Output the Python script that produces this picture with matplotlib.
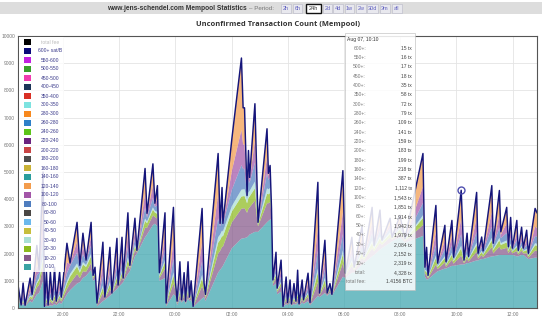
import numpy as np
import matplotlib.pyplot as plt
from matplotlib.patches import Rectangle

plt.rcParams['font.family'] = ['Liberation Sans', 'DejaVu Sans']

W, H = 542, 325

# hours after 18:00 on Aug 06
hours = [0.40, 0.51, 0.58, 0.65, 0.83, 0.90, 1.07, 1.15, 1.29, 1.34,
         1.41, 1.47, 1.55, 1.62, 1.70, 1.76, 1.88, 1.94, 2.14, 2.25,
         2.50, 2.60, 2.71, 2.82, 3.00, 3.07, 3.14, 3.21,
         3.42, 3.49, 3.67, 3.74, 3.92, 3.96, 4.10, 4.14, 4.31, 4.38,
         4.56, 4.63, 4.92, 4.99, 5.20, 5.27, 5.36, 5.43, 5.63, 5.67,
         5.93, 6.00, 6.06, 6.16, 6.22, 6.31, 6.36, 6.45, 6.50, 6.56, 6.63,
         6.95, 7.02, 7.07, 7.52, 7.59, 7.66, 7.69, 8.01, 8.35, 8.41, 8.46,
         8.55, 8.60, 8.64, 8.83, 8.94, 9.26, 9.31, 9.37, 9.42, 9.47, 9.58, 9.62, 9.76, 9.83,
         9.94, 9.99, 10.08, 10.13, 10.22, 10.29, 10.35, 10.40, 10.51, 10.56, 10.72, 10.79,
         11.07, 11.13, 11.32, 11.40, 11.50, 11.57, 11.96, 12.05,
         12.28, 12.36, 12.64, 12.71, 13.00, 13.07, 13.28, 13.35, 13.64, 13.71, 13.99, 14.17, 14.81, 14.88,
         14.94, 14.99, 15.27, 15.33, 15.59, 15.63, 15.84, 15.90, 16.17, 16.27, 16.38, 16.43, 16.72, 16.77, 16.90, 16.95,
         17.26, 17.31, 17.53, 17.58, 17.79, 17.85, 17.93, 17.99, 18.15, 18.20, 18.32, 18.38, 18.50, 18.56, 18.80, 18.87]

# total unconfirmed tx (top line)
total = [840, 110, 915, 100, 1100, 500, 2300, 1400, 5000, 60,
         1320, 110, 1320, 300, 1500, 250, 1320, 400, 2380, 1650,
         3150, 1570, 2750, 1760, 3150, 1200, 1500, 180,
         2420, 400, 2230, 550, 2560, 840, 2600, 1100, 3500, 1570,
         3300, 2120, 5130, 3480, 5300, 3850, 4500, 1300, 3500, 180,
         3700, 1000, 250, 1700, 300, 1300, 250, 1700, 400, 1000, 60,
         3660, 910, 500, 5680, 3110, 4430, 3110, 6230, 9190, 7360, 7360,
         4140, 5790, 4800, 7510, 3150, 6590, 4950, 5240, 3660, 1030, 2050, 730, 1760, 60,
         1140, 200, 1030, 150, 900, 250, 1390, 150, 1030, 300, 1280, 200,
         4620, 550, 2490, 550, 900, 500, 5050, 1280,
         2600, 1500, 3000, 1900, 3700, 2300, 3600, 2500, 3300, 2600, 3400, 2550, 5680, 1500,
         2230, 1200, 3770, 1650, 3040, 1700, 3220, 1870, 4328, 1760, 2750, 1900, 4250, 2010, 2610, 2100,
         4500, 2380, 4320, 2800, 3700, 2250, 3330, 2200, 3220, 2120, 2970, 2200, 2860, 2010, 3660, 3500]

fee0_10 = [300, 80, 150, 60, 250, 200, 500, 550, 1000, 40,
           80, 60, 100, 80, 150, 100, 200, 150, 500, 650,
           900, 950, 1100, 1180, 1400, 1000, 1050, 60,
           250, 300, 450, 520, 700, 750, 900, 950, 1250, 1350,
           1900, 2000, 2600, 2700, 3050, 3100, 3000, 1000, 1100, 60,
           500, 450, 100, 300, 200, 300, 150, 350, 250, 300, 30,
           350, 400, 250, 1300, 1400, 1500, 1550, 2200, 2550, 2560, 2570,
           2600, 2650, 2700, 2800, 2800, 3150, 3200, 3250, 3250, 800, 900, 500, 600, 40,
           150, 100, 200, 80, 150, 120, 200, 80, 200, 150, 250, 100,
           450, 400, 550, 450, 550, 450, 1150, 1100,
           1300, 1300, 1600, 1650, 1900, 1950, 2150, 2200, 2400, 2450, 2600, 2400, 2650, 1150,
           1050, 1050, 1300, 1350, 1450, 1450, 1550, 1550, 1600, 1600, 1650, 1650, 1750, 1750, 1800, 1800,
           1900, 1900, 1950, 1950, 1950, 1950, 1950, 1950, 1900, 1900, 1950, 1950, 1850, 1800, 1850, 1850]

fee10_20 = [100, 10, 80, 15, 100, 100, 250, 300, 500, 10,
            150, 20, 150, 80, 180, 60, 150, 90, 200, 250,
            350, 150, 250, 150, 250, 80, 120, 50,
            300, 40, 250, 10, 250, 35, 250, 60, 320, 80,
            220, 50, 350, 250, 350, 250, 280, 100, 350, 50,
            400, 200, 60, 200, 40, 150, 40, 200, 60, 120, 10,
            450, 200, 100, 700, 700, 750, 700, 950, 1100, 1100, 1100,
            900, 1000, 1000, 1150, 200, 700, 650, 650, 200, 90, 200, 90, 200, 10,
            150, 40, 130, 30, 120, 50, 180, 30, 130, 60, 160, 40,
            500, 60, 280, 40, 100, 20, 500, 70,
            250, 80, 250, 100, 300, 130, 250, 120, 200, 60, 180, 60, 400, 130,
            150, 40, 300, 80, 220, 60, 230, 80, 330, 40, 170, 60, 320, 60, 150, 70,
            330, 110, 310, 200, 260, 70, 200, 60, 190, 60, 160, 60, 160, 50, 260, 250]

fee20_30 = [60, 10, 60, 10, 80, 80, 150, 180, 300, 5,
            100, 15, 100, 60, 120, 40, 100, 70, 200, 250,
            280, 200, 250, 180, 250, 60, 80, 30,
            200, 30, 180, 10, 180, 25, 170, 40, 220, 60,
            150, 30, 250, 170, 220, 160, 180, 70, 230, 30,
            300, 130, 40, 130, 30, 100, 30, 130, 40, 80, 10,
            300, 130, 70, 400, 400, 400, 380, 400, 450, 450, 450,
            350, 400, 400, 450, 80, 350, 330, 330, 100, 60, 120, 60, 120, 5,
            100, 30, 90, 20, 80, 35, 120, 20, 90, 40, 110, 30,
            350, 40, 200, 30, 70, 15, 330, 50,
            150, 55, 160, 65, 200, 90, 170, 80, 130, 40, 120, 40, 260, 90,
            120, 40, 240, 80, 170, 70, 180, 90, 260, 50, 130, 70, 240, 70, 110, 80,
            250, 120, 230, 170, 200, 80, 160, 65, 150, 60, 125, 65, 120, 60, 195, 190]

fee30_40 = [30, 0, 20, 5, 30, 30, 60, 70, 120, 0,
            40, 5, 40, 20, 40, 15, 40, 25, 80, 100,
            110, 80, 90, 70, 100, 20, 30, 10,
            80, 10, 70, 5, 70, 10, 70, 15, 80, 20,
            60, 10, 90, 60, 80, 60, 70, 30, 90, 10,
            110, 50, 15, 50, 10, 40, 10, 50, 15, 30, 5,
            120, 50, 25, 200, 200, 200, 180, 200, 250, 250, 250,
            150, 200, 200, 250, 30, 200, 180, 180, 40, 20, 50, 20, 50, 0,
            40, 10, 30, 5, 30, 10, 45, 5, 30, 15, 40, 10,
            150, 15, 80, 10, 25, 5, 140, 20,
            60, 20, 60, 25, 80, 35, 60, 30, 50, 15, 45, 15, 100, 35,
            45, 15, 90, 30, 65, 25, 70, 35, 100, 15, 50, 25, 95, 25, 40, 30,
            100, 45, 90, 65, 75, 30, 60, 25, 55, 20, 50, 25, 45, 20, 75, 70]

fee80_100 = [80, 0, 100, 5, 120, 60, 250, 200, 600, 0,
             180, 5, 180, 40, 200, 25, 160, 50, 300, 300,
             400, 150, 300, 150, 300, 30, 80, 20,
             350, 15, 280, 5, 300, 15, 270, 25, 350, 40,
             220, 20, 400, 150, 350, 150, 250, 60, 380, 20,
             500, 120, 25, 220, 15, 150, 15, 200, 25, 110, 5,
             500, 100, 45, 700, 300, 500, 250, 600, 900, 750, 750,
             120, 500, 300, 700, 30, 550, 350, 400, 50, 40, 180, 40, 180, 0,
             150, 15, 130, 10, 110, 25, 180, 10, 130, 25, 160, 15,
             650, 25, 300, 15, 60, 5, 600, 30,
             200, 35, 220, 50, 280, 70, 230, 60, 150, 25, 130, 25, 450, 70,
             170, 40, 380, 80, 260, 70, 280, 90, 420, 40, 190, 70, 390, 80, 140, 90,
             400, 130, 370, 180, 280, 60, 210, 50, 200, 50, 160, 50, 150, 50, 270, 250]

fee100_120 = [100, 0, 150, 0, 180, 0, 400, 50, 900, 0,
              270, 0, 260, 0, 290, 0, 240, 0, 400, 60,
              400, 20, 300, 20, 320, 0, 60, 0,
              450, 0, 380, 0, 400, 0, 350, 0, 480, 10,
              300, 0, 520, 100, 450, 80, 280, 20, 500, 0,
              650, 30, 0, 300, 0, 200, 0, 280, 0, 140, 0,
              700, 20, 0, 900, 80, 400, 30, 700, 1300, 900, 900,
              10, 400, 100, 800, 0, 600, 150, 230, 0, 0, 250, 0, 250, 0,
              200, 0, 170, 0, 150, 0, 250, 0, 170, 0, 210, 0,
              850, 0, 400, 0, 50, 0, 800, 0,
              250, 0, 280, 0, 360, 10, 290, 0, 150, 0, 130, 0, 600, 10,
              200, 0, 500, 10, 330, 10, 360, 15, 560, 0, 230, 0, 520, 0, 170, 0,
              540, 30, 490, 130, 350, 0, 270, 0, 250, 0, 200, 0, 190, 0, 350, 320]

tick_hours = [2, 4, 6, 8, 10, 12, 14, 16, 18]
tick_labels = ['20:00', '22:00', '00:00', '02:00', '04:00', '06:00', '08:00', '10:00', '12:00']
y_ticks = list(range(0, 10001, 1000))

legend_labels = ['total fee', '600+ sat/B', '550-600', '500-550', '450-500', '400-450',
                 '350-400', '300-350', '280-300', '260-280', '240-260', '220-240',
                 '200-220', '180-200', '160-180', '140-160', '120-140', '100-120',
                 '80-100', '60-80', '50-60', '40-50', '30-40', '20-30', '10-20', '0-10']
legend_colors = ['#000000', '#0a0a7a', '#c21fe0', '#38a02a', '#f03cb0', '#1c3557',
                 '#d93025', '#7de3e0', '#f7891e', '#2d7fc8', '#5cc41a', '#6b2380',
                 '#c94545', '#4d4d4d', '#c9b236', '#2a9d9d', '#f39c4d', '#a356a8',
                 '#4f7dbf', '#4a4744', '#6bb8ec', '#c7be3c', '#a9dfd5', '#8cba1e',
                 '#85588a', '#3aa3a3']

tip_time = 'Aug 07, 10:10'
tip_hour = 16.17
tip_total = 4328
tip_labels = ['600+:', '550+:', '500+:', '450+:', '400+:', '350+:', '300+:', '280+:',
              '260+:', '240+:', '220+:', '200+:', '180+:', '160+:', '140+:', '120+:',
              '100+:', '80+:', '60+:', '50+:', '40+:', '30+:', '20+:', '10+:',
              'total:', 'total fee:']
tip_values = ['15 tx', '16 tx', '17 tx', '18 tx', '35 tx', '58 tx', '72 tx', '79 tx',
              '109 tx', '141 tx', '159 tx', '183 tx', '199 tx', '218 tx', '387 tx', '1,112 tx',
              '1,543 tx', '1,851 tx', '1,914 tx', '1,942 tx', '1,979 tx', '2,084 tx', '2,152 tx', '2,319 tx',
              '4,328 tx', '1.4156 BTC']

period_buttons = ['2h', '6h', '24h', '2d', '4d', '1w', '2w', '30d', '3m', 'all']
button_left = [281, 293, 306, 323, 333, 345, 356, 367, 380, 392]
button_right = [291, 302, 321, 332, 343, 354, 366, 378, 390, 402]


def fx(x):
    return x / W


def fy(y):
    return 1 - y / H


tot = np.array(total, dtype=float)
lower = [np.array(a, dtype=float) for a in (fee0_10, fee10_20, fee20_30, fee30_40, fee80_100, fee100_120)]
fee120_plus = np.clip(tot - sum(lower), 0, None)
layers = lower + [fee120_plus]
fill_colors = ['#3aa4ae', '#85588a', '#8cba1e', '#a9dfd5', '#4f7dbf', '#a356a8', '#f39c4d']

fig = plt.figure(figsize=(W / 100, H / 100), dpi=100)
fig.patch.set_facecolor('white')

ax = fig.add_axes([fx(18), fy(308), (537 - 18) / W, (308 - 36) / H])
ax.stackplot(hours, *layers, colors=fill_colors, alpha=0.72, linewidth=0)
ax.plot(hours, tot, color='#15157a', lw=1.05)
ax.plot([tip_hour], [tip_total], marker='o', ms=5, mfc='none', mec='#5050b0', mew=1)

ax.set_xlim(0.3986, 18.868)
ax.set_ylim(0, 10000)
ax.set_xticks(tick_hours, tick_labels)
ax.set_yticks(y_ticks, [str(v) for v in y_ticks])
ax.tick_params(length=0, labelsize=3.5, labelcolor='#777777')
ax.tick_params(axis='y', pad=2.2)
ax.tick_params(axis='x', pad=3)
ax.grid(color='#e4e4e4', lw=0.6)
ax.set_axisbelow(True)
for s in ax.spines.values():
    s.set_color('#555555')
    s.set_linewidth(0.8)

# legend (drawn by hand, stacked top to bottom)
fig.add_artist(Rectangle((fx(19), fy(272)), 45 / W, (272 - 37) / H, transform=fig.transFigure,
                         facecolor='white', alpha=0.82, edgecolor='none', zorder=5))
for i, (lab, col) in enumerate(zip(legend_labels, legend_colors)):
    yc = 42 + i * 9
    fig.add_artist(Rectangle((fx(24), fy(yc + 3)), 7 / W, 6 / H, transform=fig.transFigure,
                             facecolor=col, edgecolor='none', zorder=6))
    fig.text(fx(50), fy(yc), lab, ha='center', va='center', fontsize=3.6,
             color='#bbbbbb' if i == 0 else '#3c3c8c', zorder=6)

# tooltip
fig.add_artist(Rectangle((fx(345), fy(290)), 70 / W, (290 - 33) / H, transform=fig.transFigure,
                         facecolor='white', alpha=0.85, edgecolor='#bbbbbb', lw=0.5, zorder=5))
fig.text(fx(347), fy(40), tip_time, ha='left', va='center', fontsize=3.6, color='#333333', zorder=6)
for i, (lab, val) in enumerate(zip(tip_labels, tip_values)):
    yc = 48 + i * 9.35
    fig.text(fx(366), fy(yc), lab, ha='right', va='center', fontsize=3.6, color='#777777', zorder=6)
    fig.text(fx(412), fy(yc), val, ha='right', va='center', fontsize=3.6, color='#444444', zorder=6)

# top navigation bar
fig.add_artist(Rectangle((0, fy(14)), 1, 12 / H, transform=fig.transFigure,
                         facecolor='#dddddd', edgecolor='none', zorder=1))
fig.text(fx(247), fy(8), 'www.jens-schendel.com Mempool Statistics', ha='right', va='center',
         fontsize=4.8, weight='bold', color='#333333', zorder=3)
fig.text(fx(249), fy(8), '\u2013 Period:', ha='left', va='center', fontsize=4.5, color='#777777', zorder=3)
for lab, x0, x1 in zip(period_buttons, button_left, button_right):
    active = lab == '24h'
    fig.add_artist(Rectangle((fx(x0), fy(12.5)), (x1 - x0) / W, 9 / H, transform=fig.transFigure,
                             facecolor='white' if active else '#e8e8ee',
                             edgecolor='#111111' if active else '#b8b8c8',
                             lw=1.0 if active else 0.4, zorder=2))
    fig.text(fx((x0 + x1) / 2), fy(8), lab, ha='center', va='center', fontsize=4.0,
             color='#333333' if active else '#6060c0', zorder=3)

fig.text(fx(278), fy(24), 'Unconfirmed Transaction Count (Mempool)', ha='center', va='center',
         fontsize=5.4, weight='bold', family='Open Sans', color='#333333')

fig.savefig('out.png', dpi=100)
